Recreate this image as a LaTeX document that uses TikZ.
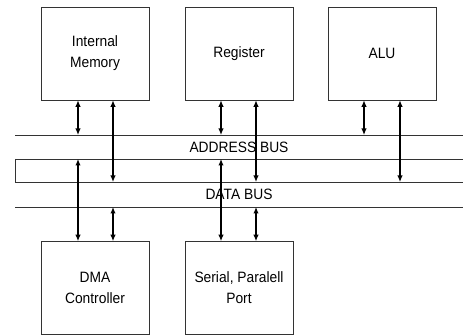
\documentclass[tikz,border=0pt]{standalone}
\usepackage{fontspec}
\setmainfont[FakeStretch=0.92]{Liberation Sans}
\usepackage{tikz}
\usetikzlibrary{positioning,calc,arrows.meta}
\tikzstyle{unit}= [rectangle, draw=black!80, line width=0.6pt, minimum width=108pt, minimum height=93pt, align=center, font=\fontsize{15}{21}\selectfont]
\tikzstyle{busline}= [line width=0.6pt, black!80]
\tikzstyle{link}= [line width=1.2pt, {Latex[length=6.5pt,width=5.5pt]}-{Latex[length=6.5pt,width=5.5pt]}]

\begin{document}
\begin{tikzpicture}[x=1pt,y=-1pt]
				\useasboundingbox (0,0) rectangle (463,336);
				\node[unit] (mem) at (95, 53.5) {Internal\\Memory};
				\node[unit] (reg) at (239, 53.5) {Register};
				\node[unit] (alu) at (382, 53.5) {ALU};
				\node[unit] (dma) at (95, 288) {DMA\\Controller};
				\node[unit] (port) at (239, 288) {Serial, Paralell\\Port};
				
				\coordinate (abT) at (15, 135);
				\coordinate (abB) at (15, 159);
				\coordinate (dbT) at (15, 182);
				\coordinate (dbB) at (15, 207);
				\node[font=\fontsize{15}{17}\selectfont] (abus) at (239, 147) {ADDRESS BUS};
				\node[font=\fontsize{15}{17}\selectfont] (dbus) at (239, 194) {DATA BUS};
				
				\draw[busline] (abT) -- (abT -| 463,0);
				\draw[busline] (abB) -- (abB -| 463,0);
				\draw[busline] (dbT) -- (dbT -| 463,0);
				\draw[busline] (dbB) -- (dbB -| 463,0);
				\draw[busline] (abB) -- (dbT);
				
				\draw[link] (mem.south -| 78,0) -- (abT -| 78,0);
				\draw[link] (mem.south -| 113,0) -- (dbT -| 113,0);
				\draw[link] (reg.south -| 221,0) -- (abT -| 221,0);
				\draw[link] (reg.south -| 256,0) -- (dbT -| 256,0);
				\draw[link] (alu.south -| 364,0) -- (abT -| 364,0);
				\draw[link] (alu.south -| 400,0) -- (dbT -| 400,0);
				\draw[link] (abB -| 78,0) -- (dma.north -| 78,0);
				\draw[link] (dbB -| 113,0) -- (dma.north -| 113,0);
				\draw[link] (abB -| 221,0) -- (port.north -| 221,0);
				\draw[link] (dbB -| 256,0) -- (port.north -| 256,0);
			\end{tikzpicture}
\end{document}
